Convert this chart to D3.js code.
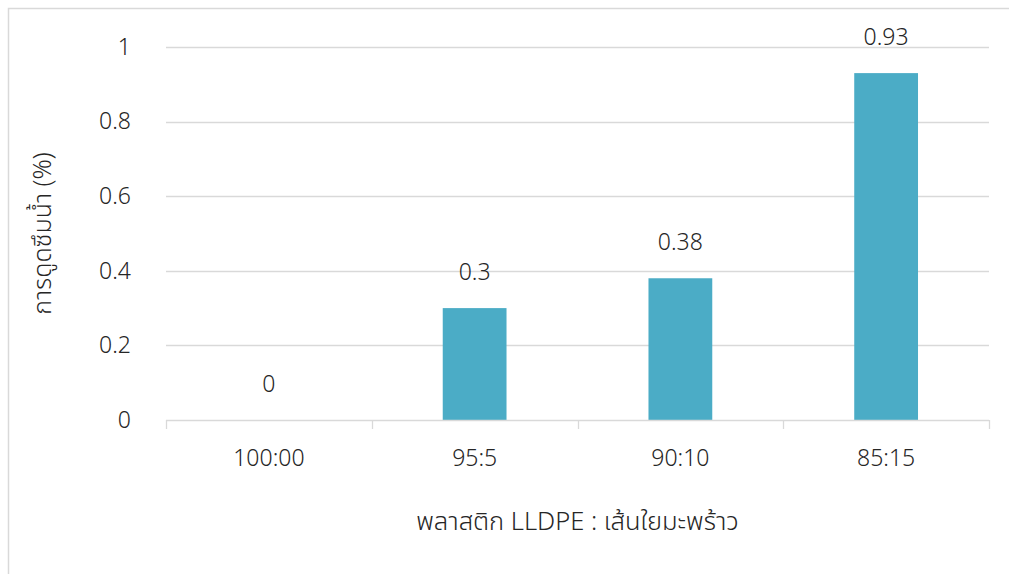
<!DOCTYPE html>
<html>
<head>
<meta charset="utf-8">
<script src="https://cdn.jsdelivr.net/npm/d3@7"></script>
<style>
  html, body { margin: 0; padding: 0; background: #fff; }
  svg text { font-family: "Noto Sans Thai", "Loma", "Garuda", "Liberation Sans", "Noto Sans", sans-serif; fill: #262626; font-weight: 300; }
</style>
</head>
<body>
<svg id="chart" width="1009" height="574"></svg>
<script>
// Water absorption by LLDPE : coconut fibre ratio
const categories = ["100:00", "95:5", "90:10", "85:15"];
const values = [0, 0.3, 0.38, 0.93];
const yTicks = [0, 0.2, 0.4, 0.6, 0.8, 1];
const xTitle = "พลาสติก LLDPE : เส้นใยมะพร้าว";
const yTitle = "การดูดซึมน้ำ (%)";

const svg = d3.select("#chart");
const margin = { left: 166, right: 1009 - 989, top: 47, bottom: 574 - 420 };
const W = 1009, H = 574;

// outer chart frame
svg.append("rect")
  .attr("x", 8.5).attr("y", 8.5)
  .attr("width", W + 10).attr("height", H + 10)
  .attr("fill", "none").attr("stroke", "#d9d9d9").attr("stroke-width", 1.5);

const x = d3.scaleBand().domain(categories)
  .range([margin.left, W - margin.right])
  .paddingInner(0.69).paddingOuter(0.345);
const xOuter = d3.scaleBand().domain(categories)
  .range([margin.left, W - margin.right]);
const y = d3.scaleLinear().domain([0, 1]).range([H - margin.bottom, margin.top]);

// horizontal gridlines
svg.append("g").selectAll("line").data(yTicks.filter(d => d > 0)).join("line")
  .attr("x1", margin.left).attr("x2", W - margin.right)
  .attr("y1", d => Math.round(y(d)) + 0.5).attr("y2", d => Math.round(y(d)) + 0.5)
  .attr("stroke", "#d9d9d9").attr("stroke-width", 1.3);

// y axis labels
const yAxis = d3.axisLeft(y).tickValues(yTicks).tickFormat(d3.format("~g")).tickSize(0).tickPadding(35);
const gy = svg.append("g").attr("transform", `translate(${margin.left},0)`).call(yAxis);
gy.select(".domain").remove();
gy.selectAll("text").attr("font-size", 23).style("font-family", null);

// bars
svg.append("g").selectAll("rect").data(values).join("rect")
  .attr("x", (d, i) => x(categories[i]))
  .attr("width", x.bandwidth())
  .attr("y", d => y(d))
  .attr("height", d => y(0) - y(d))
  .attr("fill", "#4BACC6");

// value labels
svg.append("g").selectAll("text").data(values).join("text")
  .attr("x", (d, i) => x(categories[i]) + x.bandwidth() / 2)
  .attr("y", d => y(d) - 28)
  .attr("text-anchor", "middle")
  .attr("font-size", 23)
  .text(d => d3.format("~g")(d));

// x axis baseline and category ticks
const xAxis = d3.axisBottom(xOuter).tickSize(0).tickPadding(30);
const gx = svg.append("g").attr("transform", `translate(0,${y(0)})`).call(xAxis);
gx.select(".domain").remove();
gx.selectAll("text").attr("font-size", 23).style("font-family", null);
svg.append("line")
  .attr("x1", margin.left).attr("x2", W - margin.right)
  .attr("y1", Math.round(y(0)) + 0.5).attr("y2", Math.round(y(0)) + 0.5)
  .attr("stroke", "#d9d9d9").attr("stroke-width", 1.3);
const edges = categories.map(c => xOuter(c)).concat([W - margin.right]);
svg.append("g").selectAll("line").data(edges).join("line")
  .attr("x1", d => Math.round(d) + 0.5).attr("x2", d => Math.round(d) + 0.5)
  .attr("y1", y(0)).attr("y2", y(0) + 9)
  .attr("stroke", "#d9d9d9").attr("stroke-width", 1.3);

// axis titles
svg.append("text")
  .attr("x", (margin.left + W - margin.right) / 2).attr("y", 530)
  .attr("text-anchor", "middle").attr("font-size", 25.5)
  .text(xTitle);
svg.append("text")
  .attr("transform", `translate(51,${(y(0) + y(1)) / 2}) rotate(-90)`)
  .attr("text-anchor", "middle").attr("font-size", 25)
  .text(yTitle);
</script>
</body>
</html>
